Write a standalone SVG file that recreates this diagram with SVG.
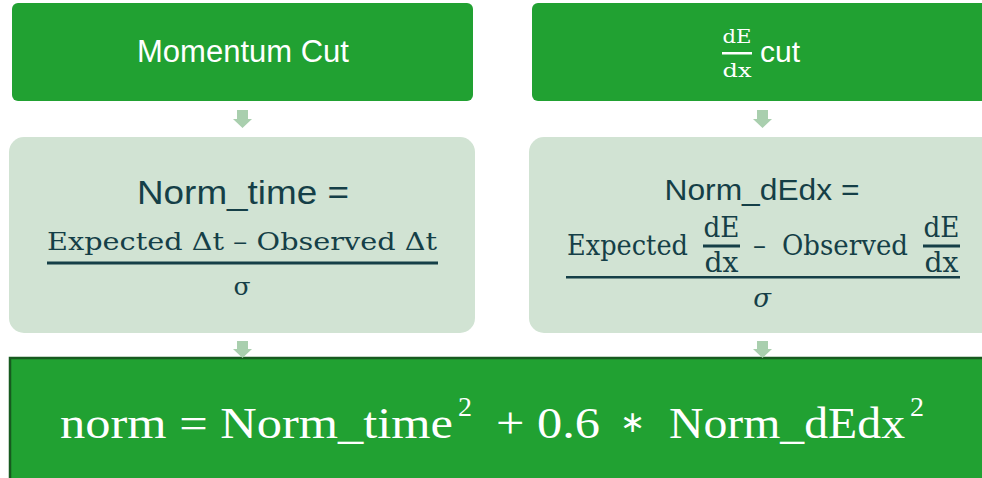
<svg xmlns="http://www.w3.org/2000/svg" width="982" height="478" viewBox="0 0 982 478">
<style>
.top{fill:#21a132}
.mid{fill:#d1e3d3}
.arrow{fill:#a9cfae}
.sans{font-family:"Liberation Sans",Arial,sans-serif}
.serif{font-family:"DejaVu Serif","Liberation Serif",serif}
.lserif{font-family:"Liberation Serif","Times New Roman",serif}
.w{fill:#ffffff}
.d{fill:#153f47}
</style>
<rect width="982" height="478" fill="#ffffff"/>
<g id="momentum-cut">
<rect class="top" x="12" y="3" width="461" height="98" rx="6"/>
<text class="sans w" x="243" y="62" font-size="31" text-anchor="middle">Momentum Cut</text>
</g>
<g id="dedx-cut">
<rect class="top" x="532" y="3" width="460" height="98" rx="6"/>
<text class="serif w" x="737" y="43" font-size="19" text-anchor="middle" textLength="29" lengthAdjust="spacingAndGlyphs">dE</text>
<rect x="722" y="52" width="30" height="2.5" fill="#ffffff"/>
<text class="serif w" x="737" y="77" font-size="19" text-anchor="middle" textLength="29" lengthAdjust="spacingAndGlyphs">dx</text>
<text class="sans w" x="760" y="62" font-size="30">cut</text>
</g>
<g id="norm-time">
<rect class="mid" x="9" y="137" width="466" height="196" rx="15"/>
<text class="sans d" x="243" y="204" font-size="34" text-anchor="middle" textLength="212" lengthAdjust="spacingAndGlyphs">Norm_time =</text>
<text class="serif d" x="47" y="250" font-size="25" textLength="390" lengthAdjust="spacingAndGlyphs">Expected Δt – Observed Δt</text>
<rect x="47" y="261.5" width="391" height="3" fill="#153f47"/>
<text class="serif d" x="242" y="295" font-size="25" text-anchor="middle">σ</text>
</g>
<g id="norm-dedx">
<rect class="mid" x="529" y="137" width="466" height="196" rx="15"/>
<text class="sans d" x="762" y="200" font-size="30" text-anchor="middle" textLength="195" lengthAdjust="spacingAndGlyphs">Norm_dEdx =</text>
<text class="serif d" x="567" y="255" font-size="27" textLength="121" lengthAdjust="spacingAndGlyphs">Expected</text>
<text class="serif d" x="721.5" y="237" font-size="27" text-anchor="middle" textLength="36" lengthAdjust="spacingAndGlyphs">dE</text>
<rect x="703" y="244.5" width="37" height="3" fill="#153f47"/>
<text class="serif d" x="721.5" y="272" font-size="27" text-anchor="middle" textLength="34" lengthAdjust="spacingAndGlyphs">dx</text>
<text class="serif d" x="753" y="255" font-size="27" textLength="13" lengthAdjust="spacingAndGlyphs">–</text>
<text class="serif d" x="782" y="255" font-size="27" textLength="126" lengthAdjust="spacingAndGlyphs">Observed</text>
<text class="serif d" x="941.5" y="237" font-size="27" text-anchor="middle" textLength="36" lengthAdjust="spacingAndGlyphs">dE</text>
<rect x="923" y="244.5" width="37" height="3" fill="#153f47"/>
<text class="serif d" x="941.5" y="272" font-size="27" text-anchor="middle" textLength="34" lengthAdjust="spacingAndGlyphs">dx</text>
<rect x="566" y="276" width="394" height="2.5" fill="#153f47"/>
<text class="serif d" x="762" y="307" font-size="26" font-style="italic" text-anchor="middle">σ</text>
</g>
<g id="norm">
<rect x="10" y="358" width="985" height="130" fill="#21a132" stroke="#175a1f" stroke-width="2.5"/>
<text class="lserif w" font-size="44"><tspan x="60" y="438" textLength="393" lengthAdjust="spacingAndGlyphs">norm = Norm_time</tspan><tspan x="458" y="416" font-size="28">2</tspan><tspan x="496" y="438" textLength="104" lengthAdjust="spacingAndGlyphs">+ 0.6</tspan><tspan x="620" y="432" font-size="30">∗</tspan><tspan x="669" y="438" textLength="236" lengthAdjust="spacingAndGlyphs">Norm_dEdx</tspan><tspan x="910" y="416" font-size="28">2</tspan></text>
</g>
<g id="connectors">
<polygon class="arrow" points="237,110 248,110 248,119 252,119 242.5,128 233,119 237,119"/>
<polygon class="arrow" points="757,110 768,110 768,119 772,119 762.5,128 753,119 757,119"/>
<polygon class="arrow" points="237,341 248,341 248,349 252,349 242.5,358 233,349 237,349"/>
<polygon class="arrow" points="757,341 768,341 768,349 772,349 762.5,358 753,349 757,349"/>
</g>
</svg>
